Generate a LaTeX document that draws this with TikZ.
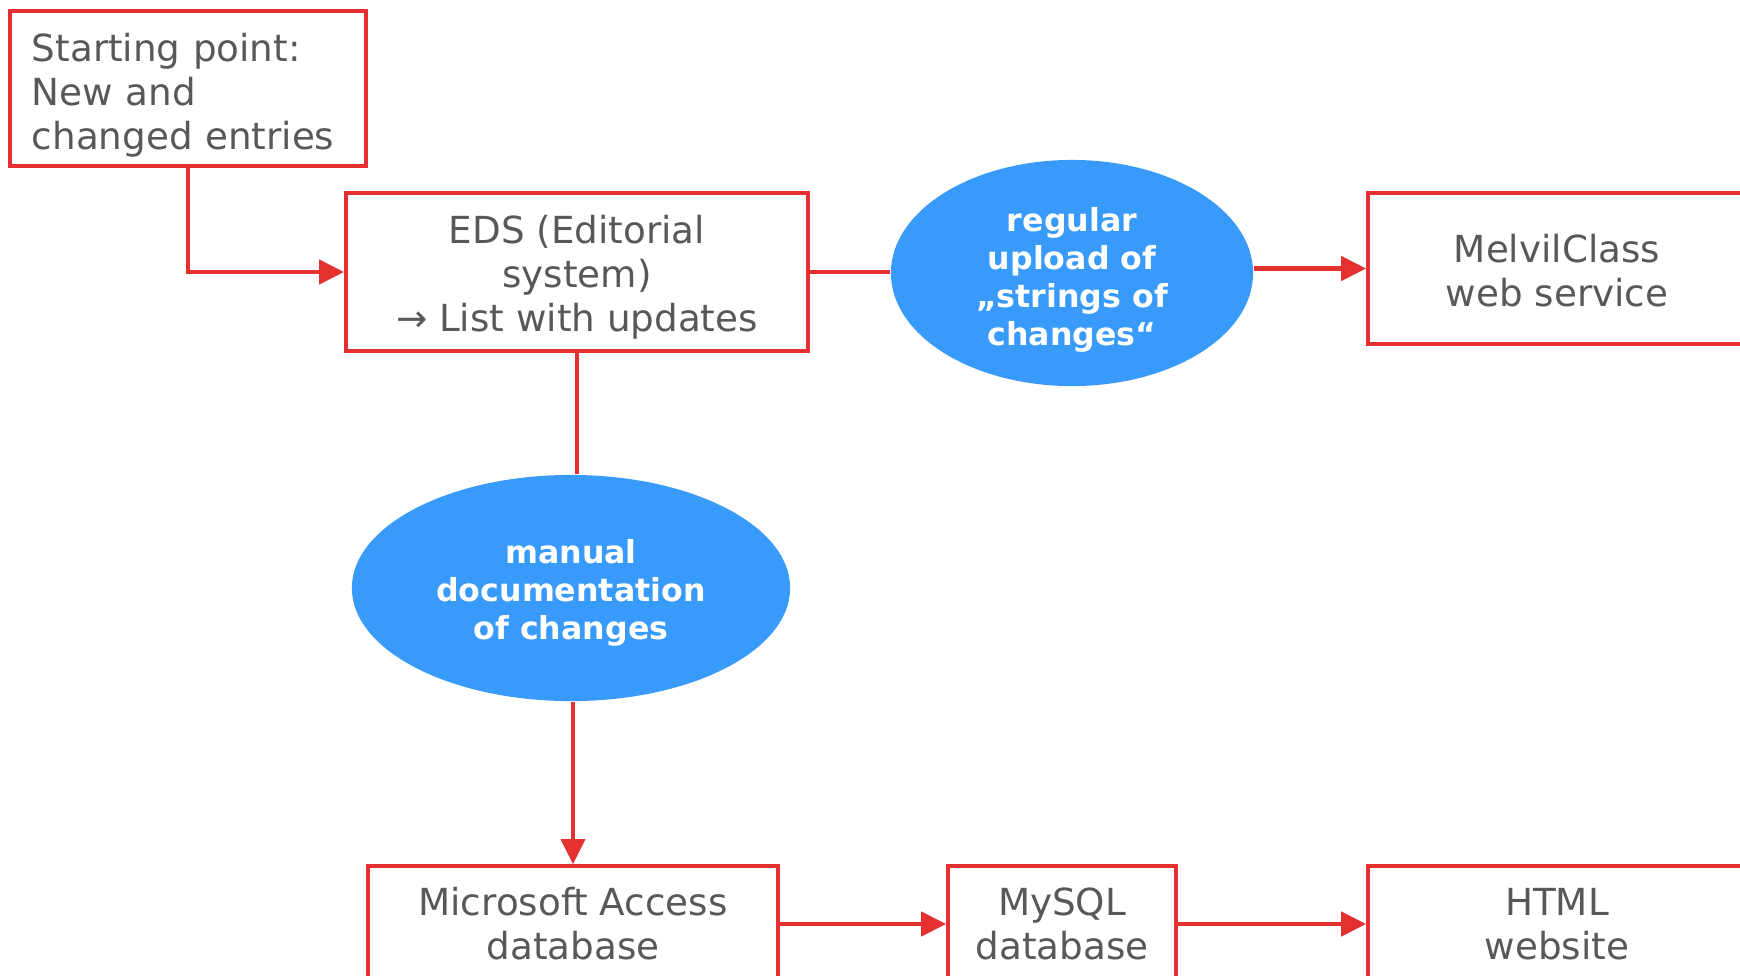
\documentclass[tikz,border=0pt]{standalone}
\usepackage{fontspec}
\setmainfont{DejaVu Sans}
\usetikzlibrary{shapes.geometric,arrows.meta}
\definecolor{linered}{RGB}{229,48,48}
\definecolor{blobblue}{RGB}{56,154,250}
\definecolor{textgray}{RGB}{88,88,88}
\newcommand{\topgap}[1]{\rule{0pt}{#1}}

\begin{document}
\begin{tikzpicture}[x=0.01cm, y=-0.01cm,
    box/.style={draw=linered, line width=1pt, text=textgray, align=center,
                font=\fontsize{10.6}{12.5}\selectfont, inner sep=0pt},
    blob/.style={ellipse, fill=blobblue, text=white, align=center, inner sep=0pt,
                 font=\fontsize{9}{10.8}\selectfont\bfseries},
    flow/.style={draw=linered, line width=1.25pt, -{Triangle[length=0.25cm, width=0.24cm]}},
    link/.style={draw=linered, line width=1.25pt}]
    \useasboundingbox (0,0) rectangle (1740,975);
    \clip (0,0) rectangle (1740,975);
    \node[box, align=left, text width=3.12cm, inner xsep=0.22cm, minimum height=1.55cm] (start) at (188,88.5)
        {\topgap{11.9pt}Starting point:\\New and\\changed entries};
    \node[box, minimum width=4.62cm, minimum height=1.58cm] (eds) at (577,272)
        {\topgap{10.9pt}EDS (Editorial\\system)\\→ List with updates};
    \node[blob, minimum width=3.62cm, minimum height=2.26cm] (upload) at (1072,273)
        {\topgap{10.8pt}regular\\upload of\\„strings of\\changes“};
    \node[box, minimum width=3.78cm, minimum height=1.51cm] (melvil) at (1557,268.5)
        {\topgap{9.3pt}MelvilClass\\web service};
    \node[blob, minimum width=4.38cm, minimum height=2.26cm] (manual) at (571,588)
        {\topgap{9.4pt}manual\\documentation\\of changes};
    \node[box, minimum width=4.10cm, minimum height=1.16cm] (access) at (573,924)
        {Microsoft Access\\database};
    \node[box, minimum width=2.28cm, minimum height=1.16cm] (mysql) at (1062,924)
        {MySQL\\database};
    \node[box, minimum width=3.78cm, minimum height=1.16cm] (html) at (1557,924)
        {HTML\\website};
    \draw[flow] (start.south) |- (eds.west);
    \draw[link] (eds.east) -- (eds.east -| upload.west);
    \draw[flow] (melvil.west -| upload.east) -- (melvil.west);
    \draw[link] (eds.south) -- (eds.south |- manual.north);
    \draw[flow, line width=0.9pt] (access.north |- manual.south) -- (access.north);
    \draw[flow] (access.east) -- (mysql.west);
    \draw[flow] (mysql.east) -- (html.west);
\end{tikzpicture}
\end{document}
